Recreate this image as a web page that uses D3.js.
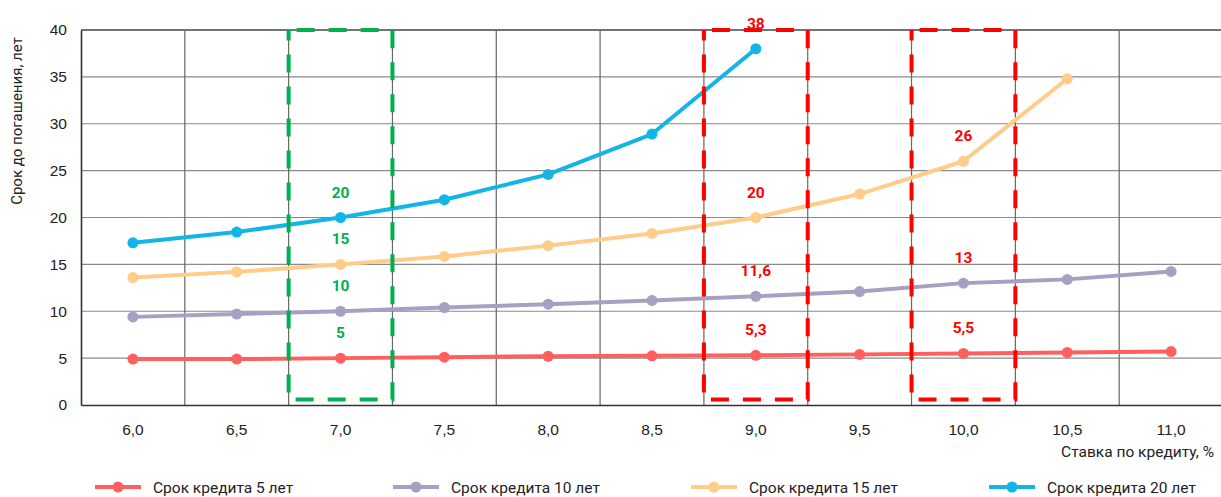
<!DOCTYPE html>
<html>
<head>
<meta charset="utf-8">
<script src="https://cdn.jsdelivr.net/npm/d3@7"></script>
<style>
  html, body { margin: 0; padding: 0; background: #fff; }
  svg { display: block; font-family: Roboto, "Noto Sans", sans-serif; }
</style>
</head>
<body>
<svg id="chart" width="1221" height="497"></svg>
<script>
// Loan interest rate, %
const rates = [6.0, 6.5, 7.0, 7.5, 8.0, 8.5, 9.0, 9.5, 10.0, 10.5, 11.0];
// Years to repay, by original loan term
const term5  = [4.9, 4.9, 5.0, 5.1, 5.2, 5.25, 5.3, 5.4, 5.5, 5.6, 5.7];
const term10 = [9.4, 9.7, 10.0, 10.4, 10.75, 11.15, 11.6, 12.1, 13.0, 13.4, 14.25];
const term15 = [13.6, 14.2, 15.0, 15.85, 17.0, 18.3, 20.0, 22.5, 26.0, 34.8, null];
const term20 = [17.3, 18.45, 20.0, 21.9, 24.6, 28.9, 38.0, null, null, null, null];

const seriesNames  = ["Срок кредита 5 лет", "Срок кредита 10 лет", "Срок кредита 15 лет", "Срок кредита 20 лет"];
const seriesColors = ["#FF5F5F", "#A99FC3", "#FFCC8A", "#12B5E6"];
const yTicks = [0, 5, 10, 15, 20, 25, 30, 35, 40];

// Highlighted rates: [rate, colour, series indices whose values are annotated]
const highlightRates  = [7.0, 9.0, 10.0];
const highlightColors = ["#00B050", "#FF0000", "#FF0000"];
const highlightSeries = [[0, 1, 2, 3], [0, 1, 2, 3], [0, 1, 2]];

const yTitle = "Срок до погашения, лет";
const xTitle = "Ставка по кредиту, %";

const allSeries = [term5, term10, term15, term20];
const fmt = v => (Number.isInteger(v) ? String(v) : d3.format(".1f")(v)).replace(".", ",");
const fmtRate = v => d3.format(".1f")(v).replace(".", ",");

const svg = d3.select("#chart");
const m = { left: 81, top: 30, right: 1223, bottom: 405 };

const x = d3.scaleBand().domain(rates).range([m.left, m.right]).padding(0);
const y = d3.scaleLinear().domain([0, 40]).range([m.bottom, m.top]);
const bw = x.bandwidth();
const cx = r => x(r) + bw / 2;

// Horizontal grid
svg.append("g").selectAll("line").data(yTicks.filter(t => t > 0)).join("line")
  .attr("x1", m.left).attr("x2", m.right)
  .attr("y1", d => y(d)).attr("y2", d => y(d))
  .attr("stroke", d => d === 40 ? "#444" : "#8a8a8a").attr("stroke-width", d => d === 40 ? 1.5 : 1.2);

// Vertical grid at category boundaries
svg.append("g").selectAll("line").data(rates.slice(1)).join("line")
  .attr("x1", d => x(d)).attr("x2", d => x(d))
  .attr("y1", m.top).attr("y2", m.bottom)
  .attr("stroke", "#666").attr("stroke-width", 1.2);

// Axes
const yAxis = svg.append("g").attr("transform", `translate(${m.left},0)`)
  .call(d3.axisLeft(y).tickValues(yTicks).tickSize(0).tickPadding(14));
yAxis.select(".domain").attr("stroke", "#333").attr("stroke-width", 1.6);
yAxis.selectAll("text").attr("font-size", 15.5).attr("fill", "#222");

const xAxis = svg.append("g").attr("transform", `translate(0,${m.bottom})`)
  .call(d3.axisBottom(x).tickFormat(fmtRate).tickSize(0).tickPadding(19));
xAxis.select(".domain").attr("stroke", "#333").attr("stroke-width", 1.6);
xAxis.selectAll("text").attr("font-size", 15.5).attr("fill", "#222");

// Axis titles
svg.append("text")
  .attr("transform", `translate(22,121) rotate(-90)`)
  .attr("text-anchor", "middle").attr("font-size", 15).attr("fill", "#222")
  .text(yTitle);
svg.append("text")
  .attr("x", 1214).attr("y", 457).attr("text-anchor", "end")
  .attr("font-size", 15.5).attr("fill", "#222")
  .text(xTitle);

// Series lines and markers
const line = d3.line().defined(d => d.v != null).x(d => cx(d.r)).y(d => y(d.v));
allSeries.forEach((vals, i) => {
  const pts = rates.map((r, j) => ({ r, v: vals[j] }));
  const g = svg.append("g");
  g.append("path").datum(pts).attr("d", line)
    .attr("fill", "none").attr("stroke", seriesColors[i]).attr("stroke-width", 4)
    .attr("stroke-linejoin", "round");
  g.selectAll("circle").data(pts.filter(d => d.v != null)).join("circle")
    .attr("cx", d => cx(d.r)).attr("cy", d => y(d.v)).attr("r", 5.5)
    .attr("fill", seriesColors[i]);
});

// Highlight boxes with value annotations
highlightRates.forEach((r, k) => {
  const col = highlightColors[k];
  svg.append("rect")
    .attr("x", x(r)).attr("y", y(40))
    .attr("width", bw).attr("height", y(0.6) - y(40))
    .attr("fill", "none").attr("stroke", col).attr("stroke-width", 4)
    .attr("stroke-dasharray", "18,14").attr("stroke-dashoffset", -8);
  highlightSeries[k].forEach(si => {
    const v = allSeries[si][rates.indexOf(r)];
    svg.append("text")
      .attr("x", cx(r)).attr("y", y(v) - 20)
      .attr("text-anchor", "middle").attr("font-size", 15.5).attr("font-weight", 700)
      .attr("fill", col).text(fmt(v));
  });
});

// Legend
const legend = svg.append("g");
seriesNames.forEach((name, i) => {
  const lx = 95 + i * 298;
  const ly = 487;
  legend.append("line").attr("x1", lx).attr("x2", lx + 46).attr("y1", ly).attr("y2", ly)
    .attr("stroke", seriesColors[i]).attr("stroke-width", 4);
  legend.append("circle").attr("cx", lx + 23).attr("cy", ly).attr("r", 5.5).attr("fill", seriesColors[i]);
  legend.append("text").attr("x", lx + 58).attr("y", ly + 6)
    .attr("font-size", 15.5).attr("fill", "#222").text(name);
});
</script>
</body>
</html>
